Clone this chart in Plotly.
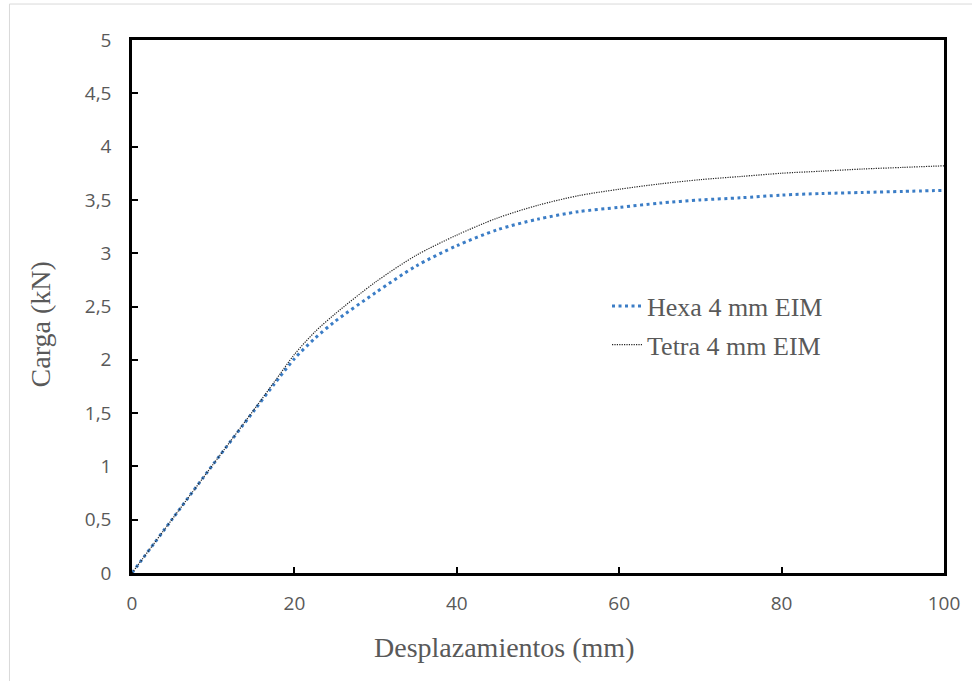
import plotly.graph_objects as go

x_mm = [0, 5, 10, 15, 17.5, 20, 22.5, 25, 30, 35, 40, 45, 50, 55, 60, 65, 70, 75, 80, 85, 90, 95, 100]
hexa_kn = [0, 0.51, 1.02, 1.52, 1.77, 2.01, 2.20, 2.36, 2.63, 2.88, 3.07, 3.22, 3.32, 3.39, 3.43, 3.47,
           3.50, 3.52, 3.545, 3.56, 3.57, 3.58, 3.59]
tetra_kn = [0, 0.51, 1.02, 1.53, 1.79, 2.05, 2.26, 2.43, 2.73, 2.98, 3.17, 3.33, 3.45, 3.54, 3.60, 3.65,
            3.69, 3.72, 3.75, 3.77, 3.79, 3.805, 3.82]

y_ticks = [0, 0.5, 1, 1.5, 2, 2.5, 3, 3.5, 4, 4.5, 5]
y_labels = ["0", "0,5", "1", "1,5", "2", "2,5", "3", "3,5", "4", "4,5", "5"]
x_ticks = [0, 20, 40, 60, 80, 100]

fig = go.Figure()
fig.add_trace(go.Scatter(x=x_mm, y=hexa_kn, mode="lines", name="Hexa 4 mm EIM", legendgroup="a",
                         line=dict(color="#3B7DC6", width=3, dash="3px,3.5px", shape="spline", smoothing=0.8)))
fig.add_trace(go.Scatter(x=x_mm, y=tetra_kn, mode="lines", name="Tetra 4 mm EIM", legendgroup="b",
                         line=dict(color="#222222", width=1.2, dash="1.2px,1.2px", shape="spline", smoothing=0.8)))

axis_common = dict(showline=True, linecolor="black", linewidth=2.5, mirror=True,
                   ticks="inside", ticklen=6, tickwidth=2, tickcolor="black",
                   showgrid=False, zeroline=False,
                   tickfont=dict(family="Open Sans, Liberation Sans, sans-serif", size=19, color="#595959"))

title_font = dict(family="Liberation Serif, Times New Roman, serif", size=28, color="#595959")

fig.update_xaxes(range=[0, 100], tickvals=x_ticks, ticklabelstandoff=11, **axis_common)
fig.update_yaxes(range=[0, 5], tickvals=y_ticks, ticktext=y_labels, ticklabelstandoff=14, **axis_common)

fig.update_layout(
    width=972, height=681,
    margin=dict(l=132, r=25, t=40, b=108),
    paper_bgcolor="white", plot_bgcolor="white",
    showlegend=True,
    legend=dict(x=0.585, y=0.545, xanchor="left", yanchor="top", bgcolor="rgba(0,0,0,0)",
                font=dict(family="Liberation Serif, Times New Roman, serif", size=26, color="#595959"),
                itemwidth=30, tracegroupgap=2),
    annotations=[
        dict(text="Desplazamientos (mm)", xref="paper", yref="paper", x=0.458, y=-0.1407,
             xanchor="center", yanchor="middle", showarrow=False, font=title_font),
        dict(text="Carga (kN)", xref="paper", yref="paper", x=-0.1129, y=0.467, textangle=-90,
             xanchor="center", yanchor="middle", showarrow=False, font=title_font),
    ],
    shapes=[
        dict(type="line", xref="paper", yref="paper", x0=-0.1509, x1=1.04, y0=1.0675, y1=1.0675,
             line=dict(color="#D9D9D9", width=1)),
        dict(type="line", xref="paper", yref="paper", x0=-0.1509, x1=-0.1509, y0=1.0675, y1=-0.21,
             line=dict(color="#D9D9D9", width=1)),
    ],
)

fig.write_html("out.html", config={"displayModeBar": False},
               post_script="document.body.style.margin='0';document.body.style.overflow='hidden';")
